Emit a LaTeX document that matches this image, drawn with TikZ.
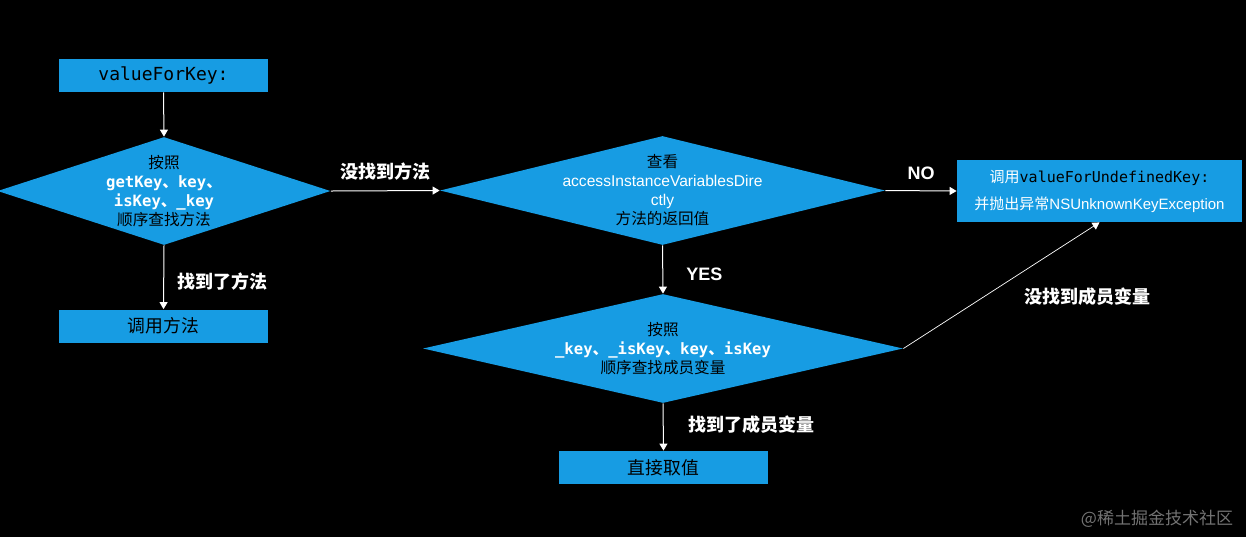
\documentclass[tikz,border=0pt]{standalone}
\usepackage{fontspec}
\setmainfont{Liberation Sans}
\setmonofont{DejaVu Sans Mono}
\newfontfamily\cjk{Noto Sans CJK SC}
\usetikzlibrary{shapes.geometric,arrows.meta}
\definecolor{kvcblue}{RGB}{23,156,227}
\newcommand{\zh}[1]{{\cjk #1}}
\newcommand{\wt}[1]{\textcolor{white}{#1}}

\begin{document}
\begin{tikzpicture}[x=0.5pt,y=-0.5pt,
  box/.style={fill=kvcblue, inner sep=0pt, minimum width=104.5pt, minimum height=16.5pt},
  decision/.style={diamond, fill=kvcblue, inner sep=0pt},
  dtext/.style={font=\fontsize{7.8}{9.5}\selectfont, align=center, text=black, inner sep=0pt},
  flow/.style={white, line width=0.5pt, -{Triangle[length=3.5pt,width=4pt]}},
  say/.style={white, inner sep=0pt, font=\fontsize{9}{11}\selectfont\bfseries},
]

 \useasboundingbox (0,0) rectangle (1246,537);
 \fill[black] (0,0) rectangle (1246,537); % dark page

% left column: look for the accessor methods
 \node[box, font=\fontsize{9}{11}\selectfont\ttfamily] (start) at (163.5,75.5) {valueForKey:};
 \node[decision, minimum width=166.5pt, minimum height=54pt,
   label={[dtext]center:\zh{按照}\\
     \wt{\ttfamily\bfseries getKey\zh{、}key\zh{、}}\\
     \wt{\ttfamily\bfseries isKey\zh{、}\_key}\\
     \zh{顺序查找方法}}] (lookup) at (164,191) {};
 \node[box, font=\fontsize{8.9}{11}\selectfont] (call) at (163.5,326) {\zh{调用方法}};

% middle column: may the ivars be read?
 \node[decision, minimum width=222.5pt, minimum height=54.5pt,
   label={[dtext]center:\zh{查看}\\
     \wt{accessInstanceVariablesDire}\\
     \wt{ctly}\\
     \zh{方法的返回值}}] (check) at (662.5,190.5) {};
 \node[decision, minimum width=240pt, minimum height=54.5pt,
   label={[dtext]center:\zh{按照}\\
     \wt{\ttfamily\bfseries \_key\zh{、}\_isKey\zh{、}key\zh{、}isKey}\\
     \zh{顺序查找成员变量}}] (ivars) at (663,348.5) {};
 \node[box, font=\fontsize{8.9}{11}\selectfont] (take) at (663.5,467.5) {\zh{直接取值}};

% right: nothing found
 \node[box, minimum width=142.5pt, minimum height=31pt, align=center,
   font=\fontsize{7.5}{13.5}\selectfont] (undef) at (1099.5,191)
   {\wt{\zh{调用}}{\ttfamily valueForUndefinedKey:}\\
    \wt{\zh{并抛出异常}NSUnknownKeyException}};

% connectors
 \draw[flow] (start.south) -- (lookup.north);
 \draw[flow] (lookup.south) -- node[say, midway, anchor=west, xshift=6.5pt, yshift=-2pt] {\zh{找到了方法}} (call.north);
 \draw[flow] (lookup.east) -- node[say, midway, yshift=9.5pt] {\zh{没找到方法}} (check.west);
 \draw[flow] (check.east) -- node[say, midway, yshift=8.5pt] {NO} (undef.west);
 \draw[flow] (check.south) -- node[say, midway, anchor=west, xshift=11.5pt, yshift=-2.25pt] {YES} (ivars.north);
 \draw[flow] (ivars.south) -- node[say, midway, anchor=west, xshift=12.5pt, yshift=1pt] {\zh{找到了成员变量}} (take.north);
 \draw[flow, line width=0.35pt] (ivars.east) -- node[say, midway, xshift=43pt, yshift=-5.5pt] {\zh{没找到成员变量}} (undef.south);

 \node[text=black!55, inner sep=0pt, font=\fontsize{8.5}{10}\selectfont] (mark) at (1157,519) {\zh{@稀土掘金技术社区}};

\end{tikzpicture}
\end{document}
